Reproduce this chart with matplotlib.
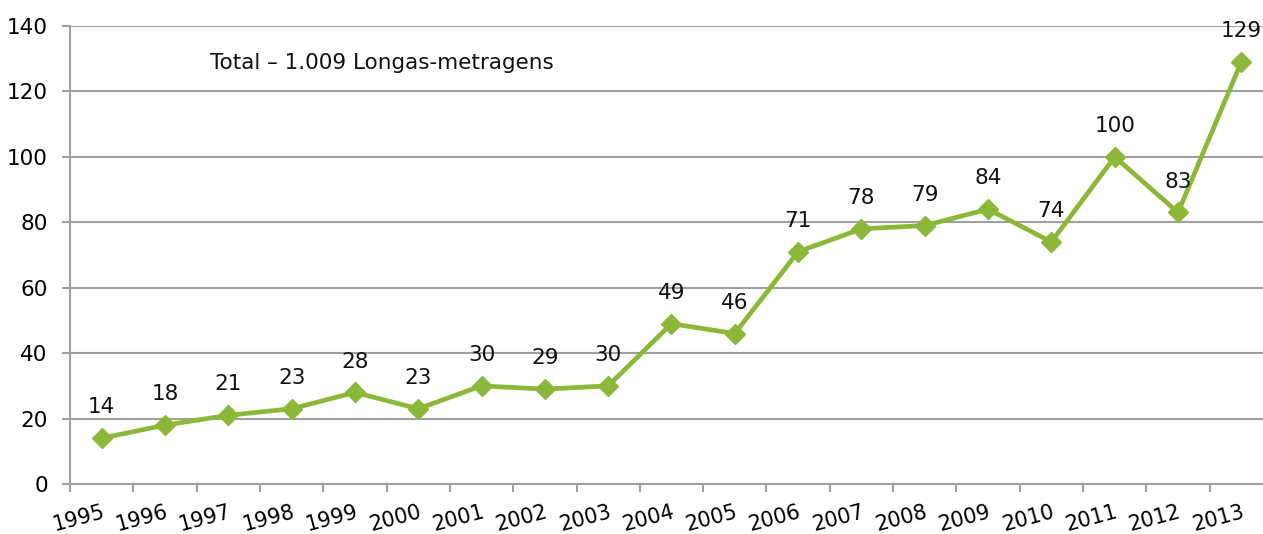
import matplotlib.pyplot as plt
import numpy as np

plt.rcParams['font.family'] = ['DejaVu Sans']

years = ['1995', '1996', '1997', '1998', '1999', '2000', '2001', '2002', '2003', '2004',
         '2005', '2006', '2007', '2008', '2009', '2010', '2011', '2012', '2013']
films = [14, 18, 21, 23, 28, 23, 30, 29, 30, 49, 46, 71, 78, 79, 84, 74, 100, 83, 129]

green = '#8cb83a'
grey = '#a0a0a0'

fig = plt.figure(figsize=(12.63, 5.34), dpi=100)
ax = fig.add_axes([70 / 1263, 50 / 534, 1203 / 1263, 458 / 534])

x = np.arange(len(years))
ax.plot(x, films, color=green, lw=3.4, marker='D', ms=10, zorder=3, clip_on=False)

for xi, v in zip(x, films):
    ax.annotate(str(v), (xi, v), xytext=(0, 15), textcoords='offset points',
                ha='center', va='bottom', fontsize=15.5, color='#111111')

ax.text(0.116, 0.92, 'Total \u2013 1.009 Longas-metragens', transform=ax.transAxes,
        fontsize=15.5, color='#111111', ha='left', va='center')

ax.set_xlim(-0.5, len(years) - 0.5)
ax.set_ylim(0, 140)
ax.set_yticks(range(0, 141, 20))
ax.yaxis.grid(True, color=grey, lw=1.5)
ax.set_axisbelow(True)

ax.set_xticks(x)
ax.set_xticklabels(years, rotation=15, ha='right', rotation_mode='anchor', fontsize=15)
ax.set_xticks(np.arange(-0.5, len(years)), minor=True)
ax.tick_params(axis='x', which='major', length=0, pad=13)
ax.tick_params(axis='x', which='minor', length=6, width=1.5, color=grey)
ax.tick_params(axis='y', length=6, width=1.5, color=grey, labelsize=15.5, pad=10)

for s in ['top', 'right']:
    ax.spines[s].set_visible(False)
for s in ['left', 'bottom']:
    ax.spines[s].set_color(grey)
    ax.spines[s].set_linewidth(1.5)

fig.savefig('out.png', dpi=100)
